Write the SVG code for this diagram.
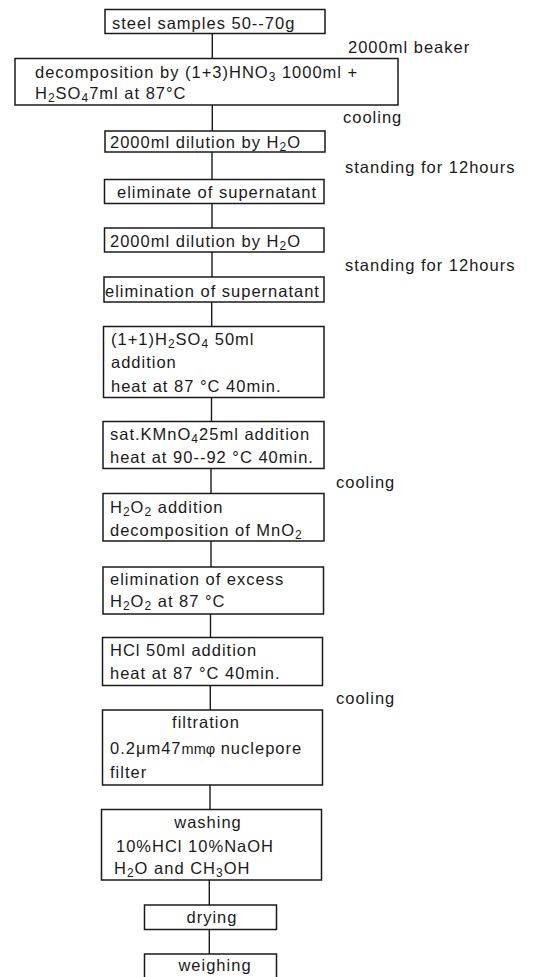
<svg xmlns="http://www.w3.org/2000/svg" width="534" height="977" viewBox="0 0 534 977">
<style>
text{font-family:"Liberation Sans",Arial,sans-serif;font-size:16.5px;letter-spacing:1px;fill:#1a1a1a}
.box{fill:#fff;stroke:#1a1a1a;stroke-width:1.5}
.con line{stroke:#1a1a1a;stroke-width:1.4}
.s{font-size:12px}
.m{text-anchor:middle}
</style>
<rect width="534" height="977" fill="#fff"/>
<g class="con" id="connectors">
<line x1="212.3" y1="33.5" x2="212.3" y2="58.5"/>
<line x1="212.3" y1="105" x2="212.3" y2="131"/>
<line x1="212" y1="152" x2="212" y2="179.5"/>
<line x1="212" y1="203.5" x2="212" y2="228"/>
<line x1="212" y1="252" x2="212" y2="277"/>
<line x1="211.7" y1="302" x2="211.7" y2="326.5"/>
<line x1="211.5" y1="397.5" x2="211.5" y2="421.5"/>
<line x1="211" y1="468.5" x2="211" y2="493.5"/>
<line x1="211" y1="541" x2="211" y2="567"/>
<line x1="210.5" y1="614" x2="210.5" y2="637.5"/>
<line x1="210.3" y1="685.5" x2="210.3" y2="710"/>
<line x1="210" y1="785" x2="210" y2="809.5"/>
<line x1="209.3" y1="880" x2="209.3" y2="905"/>
<line x1="209.3" y1="929.5" x2="209.3" y2="954"/>
</g>
<g id="n1"><rect class="box" x="105" y="9.5" width="220" height="24"/><text x="112" y="29">steel samples 50--70g</text></g>
<g id="l1"><text x="348" y="53">2000ml beaker</text></g>
<g id="n2"><rect class="box" x="15" y="58.5" width="383" height="46.5"/>
<text x="35" y="78">decomposition by (1+3)HNO<tspan class="s" dy="3">3</tspan><tspan dy="-3"> 1000ml +</tspan></text>
<text x="35" y="99">H<tspan class="s" dy="3">2</tspan><tspan dy="-3">SO</tspan><tspan class="s" dy="3">4</tspan><tspan dy="-3">7ml at 87°C</tspan></text></g>
<g id="l2"><text x="343" y="123">cooling</text></g>
<g id="n3"><rect class="box" x="105" y="131" width="220" height="21"/><text x="110" y="147.5">2000ml dilution by H<tspan class="s" dy="3">2</tspan><tspan dy="-3">O</tspan></text></g>
<g id="l3"><text x="345" y="173">standing for 12hours</text></g>
<g id="n4"><rect class="box" x="104.5" y="179.5" width="219.5" height="24"/><text x="117" y="198">eliminate of supernatant</text></g>
<g id="n5"><rect class="box" x="104.5" y="228" width="219.5" height="24"/><text x="110" y="246.5">2000ml dilution by H<tspan class="s" dy="3">2</tspan><tspan dy="-3">O</tspan></text></g>
<g id="l4"><text x="345" y="271">standing for 12hours</text></g>
<g id="n6"><rect class="box" x="104" y="277" width="220" height="25"/><text x="105" y="297">elimination of supernatant</text></g>
<g id="n7"><rect class="box" x="103.5" y="326.5" width="220.5" height="71"/>
<text x="111" y="345">(1+1)H<tspan class="s" dy="3">2</tspan><tspan dy="-3">SO</tspan><tspan class="s" dy="3">4</tspan><tspan dy="-3"> 50ml</tspan></text>
<text x="111" y="368">addition</text>
<text x="111" y="392">heat at 87 °C 40min.</text></g>
<g id="n8"><rect class="box" x="103" y="421.5" width="221" height="47"/>
<text x="110" y="440">sat.KMnO<tspan class="s" dy="3">4</tspan><tspan dy="-3">25ml addition</tspan></text>
<text x="110" y="463">heat at 90--92 °C 40min.</text></g>
<g id="l5"><text x="336" y="488">cooling</text></g>
<g id="n9"><rect class="box" x="103" y="493.5" width="221" height="47.5"/>
<text x="110" y="513">H<tspan class="s" dy="3">2</tspan><tspan dy="-3">O</tspan><tspan class="s" dy="3">2</tspan><tspan dy="-3"> addition</tspan></text>
<text x="110" y="536">decomposition of MnO<tspan class="s" dy="3">2</tspan></text></g>
<g id="n10"><rect class="box" x="103" y="567" width="220.5" height="47"/>
<text x="110" y="585">elimination of excess</text>
<text x="110" y="607">H<tspan class="s" dy="3">2</tspan><tspan dy="-3">O</tspan><tspan class="s" dy="3">2</tspan><tspan dy="-3"> at 87 °C</tspan></text></g>
<g id="n11"><rect class="box" x="102.5" y="637.5" width="220" height="48"/>
<text x="110" y="656">HCl 50ml addition</text>
<text x="110" y="679">heat at 87 °C 40min.</text></g>
<g id="l6"><text x="336" y="704">cooling</text></g>
<g id="n12"><rect class="box" x="102.5" y="710" width="220" height="75"/>
<text class="m" x="206" y="728">filtration</text>
<text x="110" y="754">0.2μm47<tspan font-size="14.5" letter-spacing="0">mmφ</tspan> nuclepore</text>
<text x="110" y="778">filter</text></g>
<g id="n13"><rect class="box" x="101.5" y="809.5" width="220" height="70.5"/>
<text class="m" x="208" y="828">washing</text>
<text x="116" y="852">10%HCl 10%NaOH</text>
<text x="114" y="874">H<tspan class="s" dy="3">2</tspan><tspan dy="-3">O and CH</tspan><tspan class="s" dy="3">3</tspan><tspan dy="-3">OH</tspan></text></g>
<g id="n14"><rect class="box" x="144.5" y="905" width="132" height="24.5"/><text class="m" x="212" y="923">drying</text></g>
<g id="n15"><rect class="box" x="144.5" y="954" width="132" height="30"/><text class="m" x="215" y="971">weighing</text></g>
</svg>
